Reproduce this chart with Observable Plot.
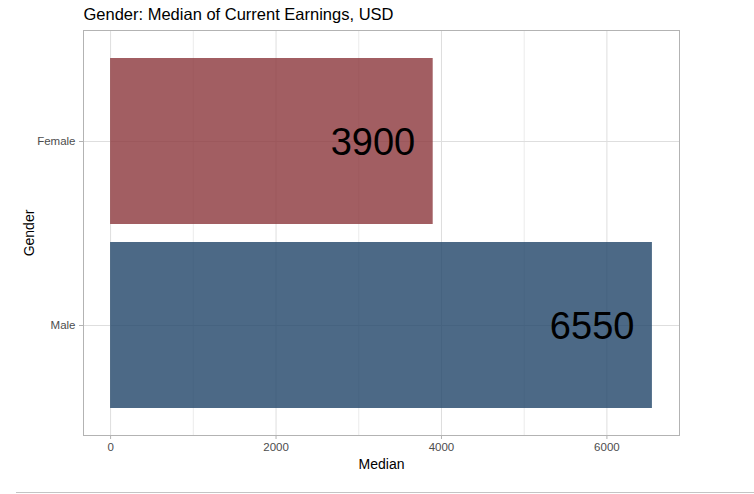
<!DOCTYPE html>
<html>
<head>
<meta charset="utf-8">
<script src="https://cdn.jsdelivr.net/npm/d3@7"></script>
<script src="https://cdn.jsdelivr.net/npm/@observablehq/plot@0.6"></script>
<style>
  html, body { margin: 0; padding: 0; background: #fff; }
  #wrap { position: relative; width: 754px; height: 494px; overflow: hidden; font-family: "Liberation Sans", Arial, sans-serif; }
  #rule { position: absolute; left: 16px; right: 0; top: 492px; height: 1px; background: #c4c4c4; }
</style>
</head>
<body>
<div id="wrap"><div id="chart"></div><div id="rule"></div></div>
<script>
const genders = ["Female", "Male"];
const medians = [3900, 6550];
const xTicks = [0, 2000, 4000, 6000];
const xMinor = [1000, 3000, 5000];
const title = "Gender: Median of Current Earnings, USD";

const data = genders.map((g, i) => ({gender: g, median: medians[i]}));
const maxV = d3.max(medians);
const pad = maxV * 0.05;

const chart = Plot.plot({
  width: 754,
  height: 480,
  marginLeft: 83,
  marginRight: 75,
  marginTop: 30,
  marginBottom: 45,
  style: {fontFamily: '"Liberation Sans", Arial, sans-serif', background: "white", overflow: "visible"},
  x: {domain: [0 - pad, maxV + pad]},
  y: {domain: genders, paddingInner: 0.1, paddingOuter: 0.15},
  color: {domain: genders, range: ["#8b363b", "#1f4468"]},
  marks: [
    Plot.gridX({ticks: xMinor, stroke: "#dedede", strokeOpacity: 1, strokeWidth: 0.6}),
    Plot.gridX({ticks: xTicks, stroke: "#dedede", strokeOpacity: 1, strokeWidth: 1}),
    Plot.gridY({stroke: "#dedede", strokeOpacity: 1, strokeWidth: 1}),
    Plot.barX(data, {x: "median", y: "gender", fill: "gender", fillOpacity: 0.8}),
    Plot.text(data, {x: "median", y: "gender", text: d => String(d.median), textAnchor: "end", dx: -18, dy: 1, fontSize: 38, fill: "black"}),
    Plot.frame({stroke: "#b3b3b3", strokeWidth: 1}),
    Plot.axisX({ticks: xTicks, tickFormat: d3.format("d"), tickSize: 4, tickPadding: 3, fontSize: 11.5, fill: "#4d4d4d", stroke: "#b3b3b3", label: null}),
    Plot.axisY({tickSize: 4, tickPadding: 4, fontSize: 11.5, fill: "#4d4d4d", stroke: "#b3b3b3", label: null}),
    Plot.text(["Median"], {frameAnchor: "bottom", dy: 29, lineAnchor: "middle", textAnchor: "middle", fontSize: 14, fill: "black"}),
    Plot.text(["Gender"], {frameAnchor: "left", dx: -54, rotate: -90, lineAnchor: "middle", textAnchor: "middle", fontSize: 14, fill: "black"}),
    Plot.text([title], {frameAnchor: "top-left", dy: -16, lineAnchor: "middle", textAnchor: "start", fontSize: 16.5, fill: "black"})
  ]
});
document.getElementById("chart").appendChild(chart);
</script>
</body>
</html>
